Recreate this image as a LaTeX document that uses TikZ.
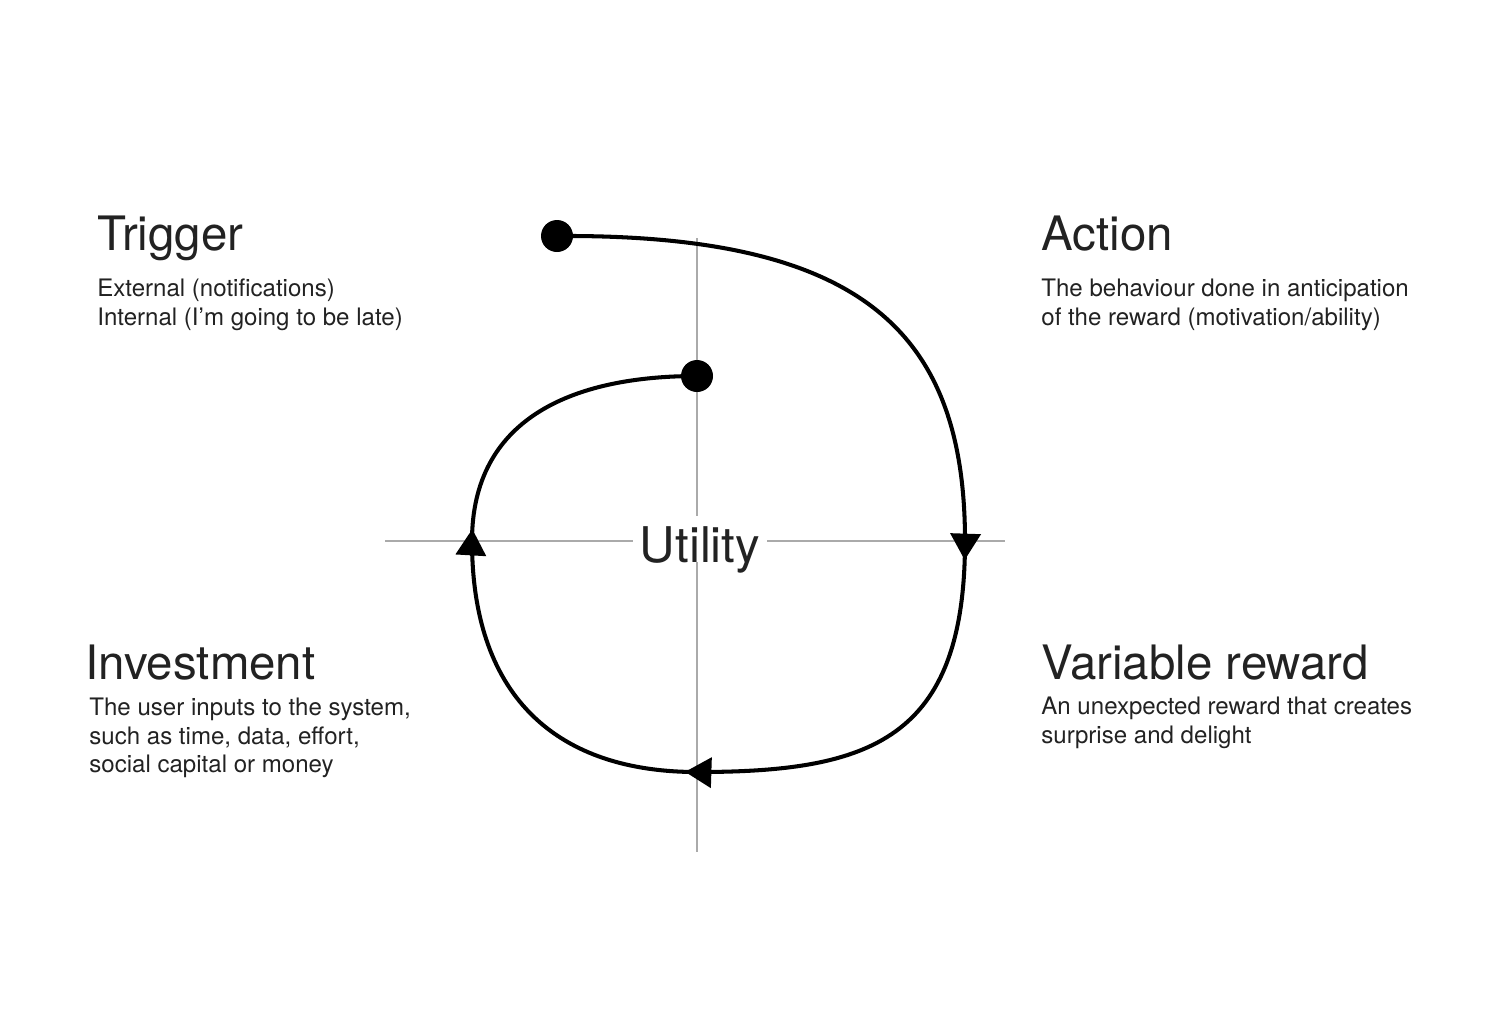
\documentclass[tikz,border=0pt]{standalone}
\usepackage{fontspec}
\setmainfont{TeX Gyre Heros}
\usetikzlibrary{arrows.meta,decorations.markings}
\definecolor{axisgray}{HTML}{AAAAAA}
\definecolor{textgray}{HTML}{222222}

\begin{document}
\begin{tikzpicture}[x=0.02cm, y=-0.02cm,
    axis/.style={axisgray, line width=1.1pt},
    loop/.style={black, line width=2.3pt, line cap=round},
    dot/.style={circle, fill=black, inner sep=0pt, minimum size=0.64cm},
    title/.style={anchor=base west, inner sep=0pt, text=textgray, font=\fontsize{27}{32}\selectfont},
    body/.style={anchor=north west, inner sep=0pt, align=left, text=textgray, font=\fontsize{13.7}{16.2}\selectfont},
    tip at/.style={postaction={decorate}, decoration={markings,
        mark=at position #1 with {\arrow{Triangle[length=15pt, width=17pt]}}}}]
  \useasboundingbox (0,0) rectangle (1500,1012);
  % axes
  \draw[axis] (385,541) -- (1005,541);
  \draw[axis] (697,238) -- (697,852);
  \node[fill=white, inner xsep=4pt, inner ysep=0pt, text height=26pt, text depth=0pt, anchor=base,
    text=textgray, font=\fontsize{28}{32}\selectfont] (util) at (700,562) {Utility};
  % loop
  \node[dot] (trig) at (557,236) {};
  \node[dot] (hook) at (697,376) {};
  \coordinate (act) at (965,541);
  \coordinate (rew) at (697,772);
  \coordinate (inv) at (472,541);
  \draw[loop] (trig.center) .. controls (860,234) and (965,330) .. (act);
  \draw[loop, tip at=0.38cm] (act) .. controls (965,740) and (870,772) .. (rew);
  \draw[loop, tip at=0.24cm] (rew) .. controls (560,772) and (472,700) .. (inv);
  \draw[loop, tip at=0.24cm] (inv) .. controls (472,420) and (570,376) .. (hook.center);
  % labels
  \node[title] (trigt) at (97,250) {Trigger};
  \node[body] (trigb) at (97,279) {External (notifications)\\Internal (I’m going to be late)};
  \node[title] (actt) at (1041,250) {Action};
  \node[body] (actb) at (1041,279) {The behaviour done in anticipation\\of the reward (motivation/ability)};
  \node[title] (invt) at (85,679) {Investment};
  \node[body] (invb) at (89,698) {The user inputs to the system,\\such as time, data, effort,\\social capital or money};
  \node[title] (rewt) at (1041,679) {Variable reward};
  \node[body] (rewb) at (1041,697) {An unexpected reward that creates\\surprise and delight};
\end{tikzpicture}
\end{document}
